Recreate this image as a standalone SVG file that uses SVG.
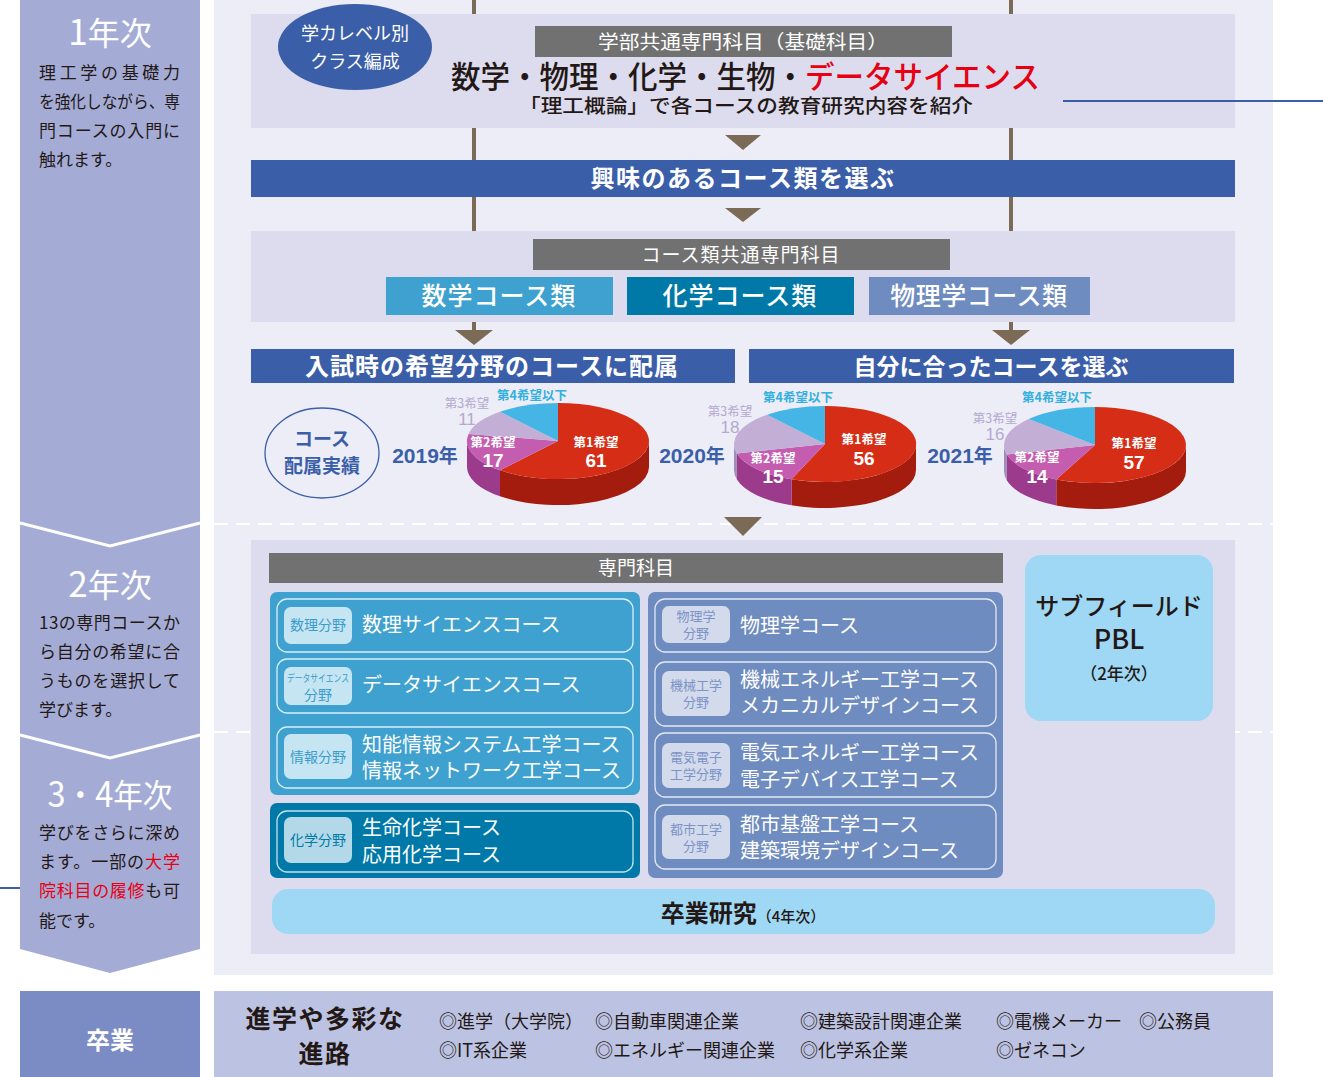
<svg xmlns="http://www.w3.org/2000/svg" width="1323" height="1077" viewBox="0 0 1323 1077">
<defs>
<style>
.jp{font-family:"Noto Sans CJK JP","Noto Sans CJK SC",sans-serif}
.num{font-family:"Liberation Sans","Noto Sans CJK JP",sans-serif}
.w{fill:#ffffff}
.d{fill:#231815}
.red{fill:#e60012}
.blue{fill:#3b5ea9}
.b{font-weight:bold}
.panel{fill:#dcdcee}
.banner{fill:#3b5ea9}
.gbar{fill:#717171}
.brown{fill:#7b6a55}
.bline{stroke:#7b6a55;stroke-width:4}
.lnk{stroke:#3b5ea9;stroke-width:2}
.dash{stroke:#ffffff;stroke-width:2;stroke-dasharray:14 8}
.row1{fill:none;stroke:#d8eef8;stroke-width:1.3}
.row2{fill:none;stroke:#c2e2ef;stroke-width:1.3}
.row3{fill:none;stroke:#e1e7f4;stroke-width:1.3}
.tag1{fill:#c6e5f2}
.tag2{fill:#b3d9e8}
.tag3{fill:#d3daec}
.ct{font-size:20px}
.tt1{fill:#3a9ccc;font-size:14px}
.tt2{fill:#0079a9;font-size:14px}
.tt3{fill:#7b93c6;font-size:13px}
.desc{font-size:17px}
.pl{font-size:12.5px;font-weight:bold}
.pn{font-size:19px;font-weight:bold}
.car{font-size:18px}
</style>
</defs>

<!-- background panels -->
<rect x="214" y="0" width="1059" height="975" fill="#ededf7"/>
<line class="dash" x1="214" y1="524" x2="1273" y2="524"/>
<line class="dash" x1="214" y1="732" x2="1273" y2="732"/>

<!-- left year column -->
<g id="year-column">
<polygon points="20,0 200,0 200,949 110,973 20,949" fill="#a4acd6"/>
<polyline points="20,523 110,546 200,523" fill="none" stroke="#ffffff" stroke-width="3"/>
<polyline points="20,735 110,758 200,735" fill="none" stroke="#ffffff" stroke-width="3"/>
</g>

<g id="year1-label">
<text x="110" y="45" class="jp w" font-size="32" text-anchor="middle"><tspan font-size="35">1</tspan>年次</text>
<text x="39" y="79" class="jp d desc" textLength="141" lengthAdjust="spacing">理工学の基礎力</text>
<text x="39" y="108" class="jp d desc" textLength="141" lengthAdjust="spacingAndGlyphs">を強化しながら、専</text>
<text x="39" y="137" class="jp d desc" textLength="141" lengthAdjust="spacing">門コースの入門に</text>
<text x="39" y="166" class="jp d desc">触れます。</text>
</g>

<g id="year2-label">
<text x="110" y="597" class="jp w" font-size="32" text-anchor="middle"><tspan font-size="35">2</tspan>年次</text>
<text x="39" y="629" class="jp d desc" textLength="141" lengthAdjust="spacing">13の専門コースか</text>
<text x="39" y="658" class="jp d desc" textLength="141" lengthAdjust="spacing">ら自分の希望に合</text>
<text x="39" y="687" class="jp d desc" textLength="141" lengthAdjust="spacing">うものを選択して</text>
<text x="39" y="716" class="jp d desc">学びます。</text>
</g>

<g id="year34-label">
<text x="110" y="807" class="jp w" font-size="32" text-anchor="middle" textLength="125" lengthAdjust="spacingAndGlyphs"><tspan font-size="35">3</tspan>・<tspan font-size="35">4</tspan>年次</text>
<text x="39" y="839" class="jp d desc" textLength="141" lengthAdjust="spacing">学びをさらに深め</text>
<text x="39" y="868" class="jp d desc" textLength="141" lengthAdjust="spacing">ます。一部の<tspan class="red">大学</tspan></text>
<text x="39" y="897" class="jp d desc" textLength="141" lengthAdjust="spacing"><tspan class="red">院科目の履修</tspan>も可</text>
<text x="39" y="927" class="jp d desc">能です。</text>
</g>

<!-- connectors -->
<g id="connectors">
<line class="bline" x1="474" y1="0" x2="474" y2="232"/>
<line class="bline" x1="1011" y1="0" x2="1011" y2="232"/>
<line class="bline" x1="474" y1="320" x2="474" y2="332"/>
<line class="bline" x1="1011" y1="320" x2="1011" y2="332"/>
<polygon class="brown" points="725,135 761,135 743,150"/>
<polygon class="brown" points="725,208 761,208 743,222"/>
<polygon class="brown" points="455,330 493,330 474,345"/>
<polygon class="brown" points="992,330 1030,330 1011,345"/>
<polygon class="brown" points="724,517 762,517 743,536"/>
</g>

<!-- block 1 -->
<g id="common-subjects">
<rect class="panel" x="251" y="14" width="984" height="114"/>
<rect class="gbar" x="535" y="26" width="417" height="31"/>
<text x="743" y="49" class="jp w" font-size="19" text-anchor="middle" textLength="290" lengthAdjust="spacingAndGlyphs">学部共通専門科目（基礎科目）</text>
<text x="451" y="88" class="jp d" font-size="31" font-weight="500" textLength="589" lengthAdjust="spacingAndGlyphs">数学・物理・化学・生物・<tspan class="red">データサイエンス</tspan></text>
<text x="519" y="113" class="jp d" font-size="19" font-weight="500" textLength="454" lengthAdjust="spacingAndGlyphs">「理工概論」で各コースの教育研究内容を紹介</text>
</g>

<g id="level-class">
<ellipse cx="355" cy="47" rx="77" ry="43" fill="#3b5ea9"/>
<text x="355" y="40" class="jp w" font-size="18" text-anchor="middle">学カレベル別</text>
<text x="355" y="68" class="jp w" font-size="18" text-anchor="middle">クラス編成</text>
</g>

<g id="choose-course-type">
<rect class="banner" x="251" y="160" width="984" height="37"/>
<text x="743" y="187" class="jp w b" font-size="24" letter-spacing="1.5" text-anchor="middle">興味のあるコース類を選ぶ</text>
</g>

<g id="course-type-subjects">
<rect class="panel" x="251" y="231" width="984" height="91"/>
<rect class="gbar" x="533" y="239" width="417" height="31"/>
<text x="741" y="262" class="jp w" font-size="19" letter-spacing="1" text-anchor="middle">コース類共通専門科目</text>
</g>
<g id="math-type">
<rect x="386" y="277" width="227" height="38" fill="#3ea1cf"/>
<text x="499" y="305" class="jp w" font-size="25" font-weight="500" letter-spacing="1" text-anchor="middle">数学コース類</text>
</g>
<g id="chem-type">
<rect x="627" y="277" width="227" height="38" fill="#0079a9"/>
<text x="740" y="305" class="jp w" font-size="25" font-weight="500" letter-spacing="1" text-anchor="middle">化学コース類</text>
</g>
<g id="phys-type">
<rect x="869" y="277" width="221" height="38" fill="#6f8cc0"/>
<text x="979" y="305" class="jp w" font-size="25" font-weight="500" letter-spacing="0.5" text-anchor="middle">物理学コース類</text>
</g>

<g id="assign-by-entrance">
<rect class="banner" x="251" y="349" width="484" height="34"/>
<text x="492" y="375" class="jp w b" font-size="24" letter-spacing="1" text-anchor="middle">入試時の希望分野のコースに配属</text>
</g>
<g id="choose-own-course">
<rect class="banner" x="749" y="349" width="485" height="34"/>
<text x="991" y="375" class="jp w b" font-size="23" text-anchor="middle">自分に合ったコースを選ぶ</text>
</g>

<!-- results -->
<g id="placement-results">
<ellipse cx="322" cy="453" rx="57" ry="45" fill="none" stroke="#3b5ea9" stroke-width="1.3"/>
<text x="322" y="446" class="jp blue b" font-size="19" text-anchor="middle">コース</text>
<text x="322" y="473" class="jp blue b" font-size="19" text-anchor="middle">配属実績</text>
</g>

<g id="pie-2019">
<text x="425" y="463" class="num blue b" font-size="21" text-anchor="middle">2019<tspan class="jp" font-size="19">年</tspan></text>
<path d="M649,441 A91,38 0 0 1 500,470.3 L500,496.3 A91,38 0 0 0 649,467 Z" fill="#a31c0e"/>
<path d="M500,470.3 A91,38 0 0 1 467,441 L467,467 A91,38 0 0 0 500,496.3 Z" fill="#9c3b8c"/>
<path d="M558,441 L558,403 A91,38 0 1 1 500,470.3 Z" fill="#d62e16"/>
<path d="M558,441 L500,470.3 A91,38 0 0 1 468.6,433.9 Z" fill="#c45cb0"/>
<path d="M558,441 L468.6,433.9 A91,38 0 0 1 500,411.7 Z" fill="#c3aed6"/>
<path d="M558,441 L500,411.7 A91,38 0 0 1 558,403 Z" fill="#45b5e5"/>
<text x="532" y="400" class="jp pl" fill="#33b0df" text-anchor="middle">第4希望以下</text>
<text x="467" y="408" class="jp" font-size="12.5" fill="#b4a9cf" text-anchor="middle">第3希望</text>
<text x="467" y="425" class="num" font-size="17" fill="#b4a9cf" text-anchor="middle">11</text>
<text x="596" y="447" class="jp w pl" text-anchor="middle">第1希望</text>
<text x="596" y="467" class="num w pn" text-anchor="middle">61</text>
<text x="493" y="447" class="jp w pl" text-anchor="middle">第2希望</text>
<text x="493" y="467" class="num w pn" text-anchor="middle">17</text>
</g>

<g id="pie-2020">
<text x="692" y="463" class="num blue b" font-size="21" text-anchor="middle">2020<tspan class="jp" font-size="19">年</tspan></text>
<path d="M916,444 A91,38 0 0 1 791.5,479.3 L791.5,505.3 A91,38 0 0 0 916,470 Z" fill="#a31c0e"/>
<path d="M791.5,479.3 A91,38 0 0 1 736.9,453.5 L736.9,479.5 A91,38 0 0 0 791.5,505.3 Z" fill="#9c3b8c"/>
<path d="M736.9,453.5 A91,38 0 0 1 734,444 L734,470 A91,38 0 0 0 736.9,479.5 Z" fill="#a08cb8"/>
<path d="M825,444 L825,406 A91,38 0 1 1 791.5,479.3 Z" fill="#d62e16"/>
<path d="M825,444 L791.5,479.3 A91,38 0 0 1 736.9,453.5 Z" fill="#c45cb0"/>
<path d="M825,444 L736.9,453.5 A91,38 0 0 1 767,414.7 Z" fill="#c3aed6"/>
<path d="M825,444 L767,414.7 A91,38 0 0 1 825,406 Z" fill="#45b5e5"/>
<text x="798" y="402" class="jp pl" fill="#33b0df" text-anchor="middle">第4希望以下</text>
<text x="730" y="416" class="jp" font-size="12.5" fill="#b4a9cf" text-anchor="middle">第3希望</text>
<text x="730" y="433" class="num" font-size="17" fill="#b4a9cf" text-anchor="middle">18</text>
<text x="864" y="444" class="jp w pl" text-anchor="middle">第1希望</text>
<text x="864" y="465" class="num w pn" text-anchor="middle">56</text>
<text x="773" y="463" class="jp w pl" text-anchor="middle">第2希望</text>
<text x="773" y="483" class="num w pn" text-anchor="middle">15</text>
</g>

<g id="pie-2021">
<text x="960" y="463" class="num blue b" font-size="21" text-anchor="middle">2021<tspan class="jp" font-size="19">年</tspan></text>
<path d="M1186,445 A91,38 0 0 1 1056.3,479.4 L1056.3,505.4 A91,38 0 0 0 1186,471 Z" fill="#a31c0e"/>
<path d="M1056.3,479.4 A91,38 0 0 1 1006.9,454.5 L1006.9,480.5 A91,38 0 0 0 1056.3,505.4 Z" fill="#9c3b8c"/>
<path d="M1006.9,454.5 A91,38 0 0 1 1004,445 L1004,471 A91,38 0 0 0 1006.9,480.5 Z" fill="#a08cb8"/>
<path d="M1095,445 L1095,407 A91,38 0 1 1 1056.3,479.4 Z" fill="#d62e16"/>
<path d="M1095,445 L1056.3,479.4 A91,38 0 0 1 1006.9,454.5 Z" fill="#c45cb0"/>
<path d="M1095,445 L1006.9,454.5 A91,38 0 0 1 1028.7,419 Z" fill="#c3aed6"/>
<path d="M1095,445 L1028.7,419 A91,38 0 0 1 1095,407 Z" fill="#45b5e5"/>
<text x="1057" y="402" class="jp pl" fill="#33b0df" text-anchor="middle">第4希望以下</text>
<text x="995" y="423" class="jp" font-size="12.5" fill="#b4a9cf" text-anchor="middle">第3希望</text>
<text x="995" y="440" class="num" font-size="17" fill="#b4a9cf" text-anchor="middle">16</text>
<text x="1134" y="448" class="jp w pl" text-anchor="middle">第1希望</text>
<text x="1134" y="469" class="num w pn" text-anchor="middle">57</text>
<text x="1037" y="462" class="jp w pl" text-anchor="middle">第2希望</text>
<text x="1037" y="483" class="num w pn" text-anchor="middle">14</text>
</g>

<!-- block 3 -->
<g id="specialized-subjects">
<rect class="panel" x="251" y="540" width="984" height="414"/>
<rect class="gbar" x="269" y="553" width="734" height="30"/>
<text x="636" y="575" class="jp w" font-size="19" text-anchor="middle">専門科目</text>
</g>

<g id="math-info-group">
<rect x="270" y="592" width="370" height="203" rx="7" fill="#3ea1cf"/>
<rect class="row1" x="277" y="599" width="356" height="53" rx="10"/>
<rect class="row1" x="277" y="659" width="356" height="54" rx="10"/>
<rect class="row1" x="277" y="727" width="356" height="61" rx="10"/>
<rect class="tag1" x="284" y="607" width="68" height="37" rx="7"/>
<rect class="tag1" x="284" y="667" width="68" height="38" rx="7"/>
<rect class="tag1" x="284" y="734" width="68" height="45" rx="7"/>
<text x="318" y="630" class="jp tt1" text-anchor="middle">数理分野</text>
<text x="318" y="682" class="jp tt1" text-anchor="middle" textLength="62" lengthAdjust="spacingAndGlyphs" style="font-size:10px">データサイエンス</text>
<text x="318" y="700" class="jp tt1" text-anchor="middle">分野</text>
<text x="318" y="762" class="jp tt1" text-anchor="middle">情報分野</text>
<text x="362" y="632" class="jp w ct">数理サイエンスコース</text>
<text x="362" y="692" class="jp w ct">データサイエンスコース</text>
<text x="362" y="752" class="jp w ct">知能情報システム工学コース</text>
<text x="362" y="778" class="jp w ct">情報ネットワーク工学コース</text>
</g>

<g id="chem-group">
<rect x="270" y="803" width="370" height="75" rx="7" fill="#0079a9"/>
<rect class="row2" x="277" y="811" width="356" height="61" rx="10"/>
<rect class="tag2" x="284" y="817" width="68" height="46" rx="7"/>
<text x="318" y="845" class="jp tt2" text-anchor="middle">化学分野</text>
<text x="362" y="835" class="jp w ct">生命化学コース</text>
<text x="362" y="862" class="jp w ct">応用化学コース</text>
</g>

<g id="phys-eng-group">
<rect x="648" y="592" width="355" height="286" rx="7" fill="#6f8cc0"/>
<rect class="row3" x="655" y="599" width="341" height="53" rx="10"/>
<rect class="row3" x="655" y="662" width="341" height="64" rx="10"/>
<rect class="row3" x="655" y="733" width="341" height="64" rx="10"/>
<rect class="row3" x="655" y="805" width="341" height="64" rx="10"/>
<rect class="tag3" x="662" y="606" width="68" height="37" rx="7"/>
<rect class="tag3" x="662" y="671" width="68" height="45" rx="7"/>
<rect class="tag3" x="662" y="743" width="68" height="45" rx="7"/>
<rect class="tag3" x="662" y="815" width="68" height="44" rx="7"/>
<text x="696" y="621" class="jp tt3" text-anchor="middle">物理学</text>
<text x="696" y="638" class="jp tt3" text-anchor="middle">分野</text>
<text x="696" y="690" class="jp tt3" text-anchor="middle">機械工学</text>
<text x="696" y="707" class="jp tt3" text-anchor="middle">分野</text>
<text x="696" y="762" class="jp tt3" text-anchor="middle">電気電子</text>
<text x="696" y="779" class="jp tt3" text-anchor="middle">工学分野</text>
<text x="696" y="834" class="jp tt3" text-anchor="middle">都市工学</text>
<text x="696" y="851" class="jp tt3" text-anchor="middle">分野</text>
<text x="740" y="633" class="jp w ct">物理学コース</text>
<text x="740" y="687" class="jp w ct">機械エネルギー工学コース</text>
<text x="740" y="713" class="jp w ct">メカニカルデザインコース</text>
<text x="740" y="760" class="jp w ct">電気エネルギー工学コース</text>
<text x="740" y="787" class="jp w ct">電子デバイス工学コース</text>
<text x="740" y="832" class="jp w ct">都市基盤工学コース</text>
<text x="740" y="858" class="jp w ct">建築環境デザインコース</text>
</g>

<g id="subfield-pbl">
<rect x="1025" y="555" width="188" height="166" rx="16" fill="#9fd8f5"/>
<text x="1119" y="615" class="jp d" font-size="24" font-weight="500" text-anchor="middle">サブフィールド</text>
<text x="1119" y="649" class="jp d" font-size="27" font-weight="500" text-anchor="middle">PBL</text>
<text x="1119" y="680" class="jp d" font-size="17" font-weight="500" text-anchor="middle">（2年次）</text>
</g>

<g id="graduation-research">
<rect x="272" y="889" width="943" height="45" rx="16" fill="#9fd8f5"/>
<text x="743" y="922" class="jp d" text-anchor="middle"><tspan font-size="24" font-weight="bold">卒業研究</tspan><tspan font-size="15" font-weight="500">（4年次）</tspan></text>
</g>

<!-- graduation -->
<g id="graduation">
<rect x="20" y="991" width="180" height="86" fill="#7b8bc4"/>
<text x="110" y="1049" class="jp w b" font-size="24" text-anchor="middle">卒業</text>
</g>

<g id="careers">
<rect x="214" y="991" width="1059" height="86" fill="#bcc3e2"/>
<text x="325" y="1028" class="jp d b" font-size="25" letter-spacing="1.5" text-anchor="middle">進学や多彩な</text>
<text x="325" y="1063" class="jp d b" font-size="25" letter-spacing="1.5" text-anchor="middle">進路</text>
<text x="439" y="1028" class="jp d car">◎進学（大学院）</text>
<text x="595" y="1028" class="jp d car">◎自動車関連企業</text>
<text x="800" y="1028" class="jp d car">◎建築設計関連企業</text>
<text x="996" y="1028" class="jp d car">◎電機メーカー</text>
<text x="1139" y="1028" class="jp d car">◎公務員</text>
<text x="439" y="1057" class="jp d car">◎IT系企業</text>
<text x="595" y="1057" class="jp d car">◎エネルギー関連企業</text>
<text x="800" y="1057" class="jp d car">◎化学系企業</text>
<text x="996" y="1057" class="jp d car">◎ゼネコン</text>
</g>

<!-- outgoing link lines -->
<g id="link-lines">
<line class="lnk" x1="1063" y1="101" x2="1323" y2="101"/>
<line class="lnk" x1="0" y1="888" x2="20" y2="888"/>
</g>
</svg>
